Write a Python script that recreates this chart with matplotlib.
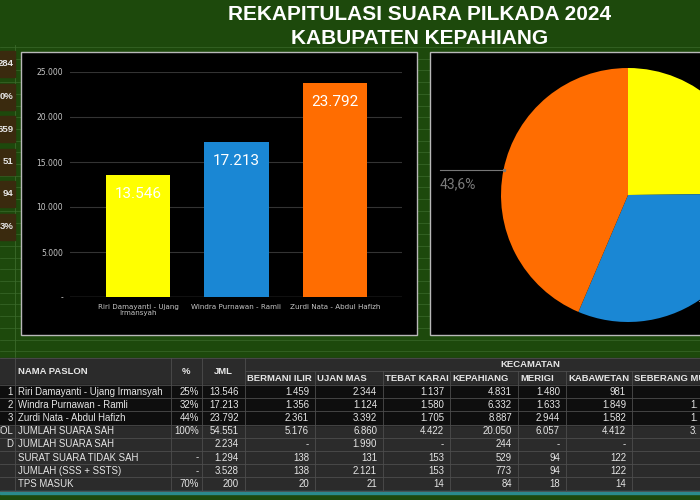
"""Dashboard: rekapitulasi suara Pilkada 2024 Kabupaten Kepahiang."""
import numpy as np
import matplotlib
matplotlib.use("Agg")
import matplotlib.pyplot as plt
from matplotlib.patches import Rectangle

# ----------------------------- data -----------------------------------------
TITLE = ["REKAPITULASI SUARA PILKADA 2024", "KABUPATEN KEPAHIANG"]

paslon = ["Riri Damayanti - Ujang\nIrmansyah", "Windra Purnawan - Ramli",
          "Zurdi Nata - Abdul Hafizh"]
suara = [13546, 17213, 23792]
bar_colors = ["#ffff00", "#1a87d4", "#ff6d01"]

y_ticks = [0, 5000, 10000, 15000, 20000, 25000]
y_tick_labels = ["-", "5.000", "10.000", "15.000", "20.000", "25.000"]

# cut-off summary boxes on the far left
left_boxes = ["284", "0%", "659", "51", "94", "3%"]

kecamatan = ["BERMANI ILIR", "UJAN MAS", "TEBAT KARAI", "KEPAHIANG", "MERIGI",
             "KABAWETAN", "SEBERANG MUSI"]
row_no = ["1", "2", "3", "COL", "D", "", "", ""]
row_nama = ["Riri Damayanti - Ujang Irmansyah", "Windra Purnawan - Ramli",
            "Zurdi Nata - Abdul Hafizh", "JUMLAH SUARA SAH", "JUMLAH SUARA SAH",
            "SURAT SUARA TIDAK SAH", "JUMLAH (SSS + SSTS)", "TPS MASUK"]
row_pct = ["25%", "32%", "44%", "100%", "", "-", "-", "70%"]
row_jml = ["13.546", "17.213", "23.792", "54.551", "2.234", "1.294", "3.528", "200"]
row_kec = [
    ["1.459", "2.344", "1.137", "4.831", "1.480", "981", ""],
    ["1.356", "1.124", "1.580", "6.332", "1.633", "1.849", "1."],
    ["2.361", "3.392", "1.705", "8.887", "2.944", "1.582", "1."],
    ["5.176", "6.860", "4.422", "20.050", "6.057", "4.412", "3."],
    ["-", "1.990", "-", "244", "-", "-", ""],
    ["138", "131", "153", "529", "94", "122", ""],
    ["138", "2.121", "153", "773", "94", "122", ""],
    ["20", "21", "14", "84", "18", "14", ""],
]

# ----------------------------- layout (pixels) ------------------------------
W, H = 700, 500
GREEN = "#1d490c"
GRID_GREEN = "#3b6a2b"
TEXT = "#e6e6e6"


def fig_rect(x0, y0, x1, y1):
    return [x0 / W, 1 - y1 / H, (x1 - x0) / W, (y1 - y0) / H]


def dotted(v):
    return f"{v:,}".replace(",", ".")


fig = plt.figure(figsize=(7, 5), dpi=100, facecolor=GREEN)
bg = fig.add_axes([0, 0, 1, 1])
bg.set_xlim(0, W)
bg.set_ylim(H, 0)
bg.axis("off")

# spreadsheet gridlines showing through the green (under the panels)
for y in np.arange(47, 358, 11.7):
    bg.plot([0, W], [y, y], color=GRID_GREEN, lw=0.5, zorder=0.5)
bg.plot([15, 15], [45, 358], color=GRID_GREEN, lw=0.6, zorder=0.5)

# title
for i, line in enumerate(TITLE):
    bg.text(420, 15 + 24 * i, line, ha="center", va="center", color="white",
            fontsize=15, fontweight="bold", family="Liberation Sans")

# left summary boxes
for i, s in enumerate(left_boxes):
    yc = 64 + 32.5 * i
    bg.add_patch(Rectangle((0, yc - 13), 15, 26, color="#3a2a0e", zorder=1))
    bg.text(13.5, yc, s, ha="right", va="center", color=TEXT, fontsize=6.8,
            fontweight="bold", family="Liberation Sans")

# chart panels
for x0, x1 in [(21, 417), (430, 720)]:
    bg.add_patch(Rectangle((x0, 52), x1 - x0, 283, facecolor="black",
                           edgecolor="#b8b8b8", lw=1, zorder=1))

# ----------------------------- bar chart ------------------------------------
ax = fig.add_axes(fig_rect(70, 72, 402, 297))
ax.set_facecolor("none")
x = np.arange(len(suara))
ax.bar(x, suara, width=0.65, color=bar_colors, zorder=3)
ax.set_xlim(-0.69, 2.68)
ax.set_ylim(0, 25000)
ax.set_yticks(y_ticks, y_tick_labels)
ax.set_xticks(x, paslon)
ax.tick_params(length=0, colors="#c8c8c8", labelsize=5.5)
ax.tick_params(axis="y", pad=5)
ax.tick_params(axis="x", pad=5, labelsize=5.1)
for lab in ax.get_xticklabels():
    lab.set_linespacing(1.1)
ax.grid(axis="y", color="#333333", lw=0.8, zorder=0)
ax.axhline(0, color="#777777", lw=0.9, zorder=2)
for s in ax.spines.values():
    s.set_visible(False)
for xi, v in zip(x, suara):
    ax.annotate(dotted(v), (xi, v), xytext=(0, -13.5), textcoords="offset points",
                ha="center", va="center", color="white", fontsize=11,
                family="Roboto", zorder=4)

# ----------------------------- pie chart ------------------------------------
pax = fig.add_axes(fig_rect(501, 68, 755, 322))
pax.pie(suara, colors=bar_colors, startangle=90, counterclock=False,
        wedgeprops=dict(linewidth=0))
pax.set_xlim(-1, 1)
pax.set_ylim(-1, 1)
total = sum(suara)
angles = 90 - 360 * (np.cumsum(suara) - np.array(suara) / 2) / total
# orange (3rd) label to the left, blue (2nd) leader running off the right edge
th = np.radians(angles[2])
cx, cy = np.cos(th), np.sin(th)
pax.plot([cx, cx - 0.5], [cy, cy], color="#777777", lw=0.8, clip_on=False)
pax.plot([cx], [cy], marker="o", ms=1.5, color="#777777", clip_on=False)
pct = f"{100 * suara[2] / total:.1f}%".replace(".", ",")
pax.text(cx - 0.5, cy - 0.115, pct, ha="left", va="center", color="#7a7a7a",
         fontsize=10, family="Roboto")
th = np.radians(angles[1])
cx, cy = np.cos(th), np.sin(th)
pax.plot([cx, cx + 0.5], [cy, cy], color="#777777", lw=0.8, clip_on=False)

# ----------------------------- table ----------------------------------------
col_edges = [0, 15, 171, 202, 245, 315, 383, 450, 518, 566, 632, 720]
top, sub, body = 358, 371, 385
row_h = 13.2
n_rows = len(row_nama)
bottom = body + row_h * n_rows
LINE = "#4d4d4d"

bg.add_patch(Rectangle((0, top), W, bottom - top, color="#2b2b2b"))
bg.add_patch(Rectangle((0, body), W, 3 * row_h, color="#0e0e0e"))
for y in [top, sub] + [body + row_h * i for i in range(n_rows + 1)]:
    x0 = col_edges[4] if y == sub else 0
    bg.plot([x0, W], [y, y], color=LINE, lw=0.6)
for i, xe in enumerate(col_edges[1:-1], start=1):
    y0 = sub if i > 4 else top
    bg.plot([xe, xe], [y0, bottom], color=LINE, lw=0.6)
bg.add_patch(Rectangle((0, bottom), W, 3, color="#2a8b8c"))

hdr = dict(color=TEXT, fontsize=6.8, fontweight="bold", family="Liberation Sans",
           va="center")
bg.text(18, (top + body) / 2, "NAMA PASLON", ha="left", **hdr)
bg.text((col_edges[2] + col_edges[3]) / 2, (top + body) / 2, "%", ha="center", **hdr)
bg.text((col_edges[3] + col_edges[4]) / 2, (top + body) / 2, "JML", ha="center", **hdr)
bg.text(530, (top + sub) / 2, "KECAMATAN", ha="center", **hdr)
for k, name in enumerate(kecamatan):
    bg.text(col_edges[4 + k] + 2, (sub + body) / 2 + 0.5, name, ha="left", **hdr)

cell = dict(color=TEXT, fontsize=6.9, family="Liberation Sans", va="center")
for r in range(n_rows):
    yc = body + row_h * (r + 0.5)
    bg.text(col_edges[1] - 2, yc, row_no[r], ha="right", **cell)
    bg.text(col_edges[1] + 3, yc, row_nama[r], ha="left", **cell)
    bg.text(col_edges[3] - 3, yc, row_pct[r], ha="right", **cell)
    bg.text(col_edges[4] - 6, yc, row_jml[r], ha="right", **cell)
    for k, val in enumerate(row_kec[r]):
        if k == len(row_kec[r]) - 1:
            bg.text(690, yc, val, ha="left", **cell)
        else:
            bg.text(col_edges[5 + k] - 6, yc, val, ha="right", **cell)

fig.savefig("out.png", dpi=100, facecolor=GREEN)
